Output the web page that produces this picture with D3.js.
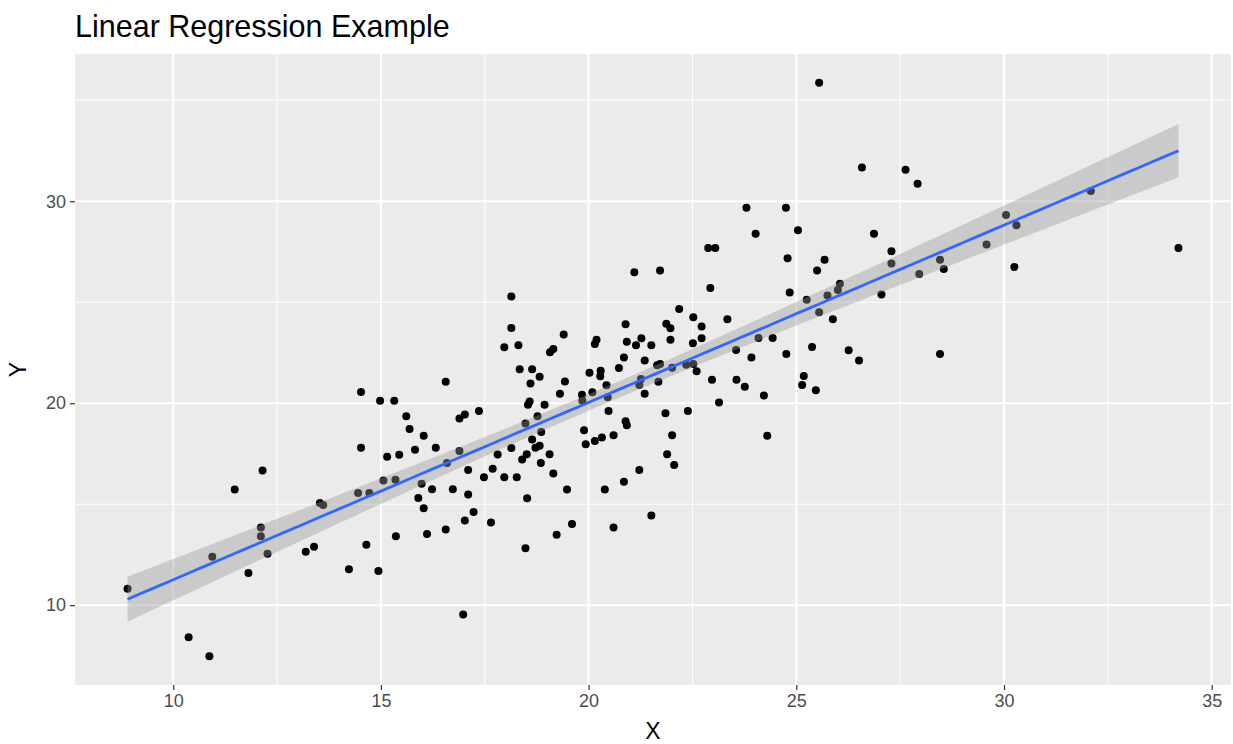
<!DOCTYPE html>
<html>
<head>
<meta charset="utf-8">
<script src="https://cdn.jsdelivr.net/npm/d3@7"></script>
<style>
  html, body { margin: 0; padding: 0; background: #ffffff; }
  svg { display: block; }
</style>
</head>
<body>
<svg id="chart" width="1233" height="744"></svg>
<script>
// ---- data ----
const xValues = [
  8.90, 10.37, 10.87, 10.94, 11.48, 12.15, 12.11, 12.11, 12.27, 11.81,
  13.19, 13.39, 13.53, 13.61, 14.23, 14.52, 14.45, 14.72, 14.65, 14.94,
  14.52, 14.98, 15.32, 16.56, 15.61, 15.69, 16.03, 15.15, 15.44, 15.82,
  16.32, 16.89, 17.02, 17.36, 16.89, 16.59, 15.06, 15.35, 15.98, 16.23,
  15.90, 16.03, 16.73, 17.10, 17.10, 17.23, 17.02, 16.56, 16.11, 15.36,
  16.98, 17.48, 17.65, 17.97, 18.27, 17.69, 17.81, 18.14, 18.40, 18.51,
  18.52, 18.48, 18.14, 18.14, 17.97, 18.31, 19.40, 19.07, 19.15, 18.34,
  18.64, 18.82, 18.60, 19.43, 19.31, 18.58, 18.54, 18.94, 18.77, 18.48,
  18.86, 18.64, 18.72, 18.82, 19.06, 18.85, 19.15, 19.48, 19.23, 19.60,
  20.60, 20.39, 20.85, 19.89, 19.93, 20.15, 20.32, 20.60, 20.48, 20.89,
  20.92, 19.84, 20.09, 20.43, 20.46, 20.02, 20.29, 20.28, 20.15, 20.19,
  20.73, 20.85, 20.92, 20.89, 19.85, 21.10, 21.72, 22.88, 23.05, 22.93,
  22.18, 22.52, 23.34, 22.72, 21.87, 21.97, 21.14, 21.27, 21.51, 21.97,
  22.51, 22.72, 21.35, 21.65, 21.72, 22.01, 22.35, 22.52, 22.60, 21.26,
  21.22, 21.68, 21.35, 21.85, 22.39, 23.14, 22.97, 23.56, 23.76, 23.55,
  22.01, 21.89, 22.06, 21.22, 21.51, 25.55, 26.58, 23.80, 24.75, 24.02,
  25.04, 26.87, 24.79, 25.68, 25.50, 27.29, 27.29, 24.84, 26.05, 26.00,
  25.75, 25.25, 25.55, 27.05, 25.88, 24.09, 24.43, 23.92, 24.76, 25.38,
  26.26, 26.51, 24.22, 25.18, 25.14, 25.47, 24.30, 27.63, 27.92, 27.96,
  28.46, 28.55, 28.46, 29.58, 30.05, 30.30, 30.25, 32.09, 34.20
];
const yValues = [
  10.82, 8.42, 7.47, 12.40, 15.73, 16.67, 13.85, 13.41, 12.55, 11.60,
  12.65, 12.89, 15.06, 14.96, 11.78, 17.80, 15.56, 15.56, 12.99, 11.70,
  20.55, 20.12, 20.12, 21.06, 19.36, 18.73, 18.39, 17.35, 17.45, 17.70,
  17.80, 19.24, 19.44, 19.61, 17.63, 17.04, 16.18, 16.21, 16.01, 15.74,
  15.31, 14.80, 15.74, 16.69, 15.48, 14.61, 14.19, 13.75, 13.52, 13.41,
  9.54, 16.34, 14.10, 16.34, 16.34, 16.76, 17.46, 17.78, 17.21, 17.47,
  15.30, 12.82, 25.29, 23.73, 22.77, 22.87, 23.40, 22.52, 22.69, 21.68,
  21.68, 21.31, 20.98, 21.08, 20.47, 20.08, 19.92, 19.92, 19.36, 19.00,
  18.58, 18.21, 17.80, 17.90, 17.47, 17.04, 16.52, 15.73, 13.49, 14.02,
  13.85, 15.73, 16.11, 18.66, 17.97, 18.13, 18.30, 18.41, 19.61, 19.11,
  18.91, 20.42, 20.54, 20.89, 20.29, 21.51, 21.61, 21.34, 22.93, 23.14,
  21.75, 22.27, 23.05, 23.91, 20.12, 26.48, 26.57, 27.69, 27.69, 25.70,
  24.66, 24.26, 24.16, 23.80, 23.93, 23.71, 22.87, 23.22, 22.87, 23.14,
  22.97, 23.22, 22.11, 21.88, 21.94, 21.76, 21.91, 21.94, 21.58, 21.20,
  20.90, 21.06, 20.47, 19.51, 19.61, 20.04, 21.16, 21.16, 20.82, 22.63,
  18.41, 17.47, 16.94, 16.69, 14.44, 35.87, 31.67, 29.68, 29.68, 28.39,
  28.56, 28.39, 27.18, 27.10, 26.57, 27.53, 26.92, 25.48, 25.92, 25.60,
  25.33, 25.12, 24.50, 25.38, 24.16, 23.23, 23.23, 22.27, 22.44, 22.79,
  22.62, 22.11, 20.38, 21.35, 20.90, 20.64, 18.39, 31.56, 30.87, 26.40,
  27.10, 26.65, 22.44, 27.86, 29.32, 28.81, 26.75, 30.51, 27.69
];
const xTicks = [10, 15, 20, 25, 30, 35];
const xMinor = [12.5, 17.5, 22.5, 27.5, 32.5];
const yTicks = [10, 20, 30];
const yMinor = [15, 25, 35];
const titleText = "Linear Regression Example";
const xLabel = "X";
const yLabel = "Y";

// ---- layout ----
const W = 1233, H = 744;
const panel = { left: 75, right: 1231, top: 54, bottom: 685 };

const points = xValues.map((x, i) => ({ x: x, y: yValues[i] }));

// ggplot-style 5% expansion of the data range
function expand(ext) { const r = ext[1] - ext[0]; return [ext[0] - 0.05 * r, ext[1] + 0.05 * r]; }
const xs = d3.scaleLinear().domain(expand(d3.extent(xValues))).range([panel.left, panel.right]);
const ys = d3.scaleLinear().domain(expand(d3.extent(yValues))).range([panel.bottom, panel.top]);

// ---- linear model with 95% confidence band ----
const n = points.length;
const xbar = d3.mean(xValues), ybar = d3.mean(yValues);
let sxx = 0, sxy = 0;
points.forEach(p => { sxx += (p.x - xbar) ** 2; sxy += (p.x - xbar) * (p.y - ybar); });
const slope = sxy / sxx;
const intercept = ybar - slope * xbar;
let sse = 0;
points.forEach(p => { sse += (p.y - (intercept + slope * p.x)) ** 2; });
const s = Math.sqrt(sse / (n - 2));
const tq = 1.972; // t quantile 0.975, df ~ 197
const [xmin, xmax] = d3.extent(xValues);
const fit = d3.range(80).map(i => {
  const x = xmin + (xmax - xmin) * i / 79;
  const yhat = intercept + slope * x;
  const se = s * Math.sqrt(1 / n + (x - xbar) ** 2 / sxx);
  return { x: x, y: yhat, lo: yhat - tq * se, hi: yhat + tq * se };
});

// ---- draw ----
const svg = d3.select("#chart");

svg.append("rect")
  .attr("x", panel.left).attr("y", panel.top)
  .attr("width", panel.right - panel.left).attr("height", panel.bottom - panel.top)
  .attr("fill", "#EBEBEB");

const grid = svg.append("g");
grid.selectAll(".xminor").data(xMinor).join("line")
  .attr("x1", d => xs(d)).attr("x2", d => xs(d))
  .attr("y1", panel.top).attr("y2", panel.bottom)
  .attr("stroke", "#ffffff").attr("stroke-width", 1);
grid.selectAll(".yminor").data(yMinor).join("line")
  .attr("y1", d => ys(d)).attr("y2", d => ys(d))
  .attr("x1", panel.left).attr("x2", panel.right)
  .attr("stroke", "#ffffff").attr("stroke-width", 1);
grid.selectAll(".xmajor").data(xTicks).join("line")
  .attr("x1", d => xs(d)).attr("x2", d => xs(d))
  .attr("y1", panel.top).attr("y2", panel.bottom)
  .attr("stroke", "#ffffff").attr("stroke-width", 2);
grid.selectAll(".ymajor").data(yTicks).join("line")
  .attr("y1", d => ys(d)).attr("y2", d => ys(d))
  .attr("x1", panel.left).attr("x2", panel.right)
  .attr("stroke", "#ffffff").attr("stroke-width", 2);

// points
svg.append("g").selectAll("circle").data(points).join("circle")
  .attr("cx", d => xs(d.x)).attr("cy", d => ys(d.y))
  .attr("r", 4).attr("fill", "#000000");

// confidence band
svg.append("path").datum(fit)
  .attr("d", d3.area().x(d => xs(d.x)).y0(d => ys(d.lo)).y1(d => ys(d.hi)))
  .attr("fill", "#999999").attr("fill-opacity", 0.4);

// fitted line
svg.append("path").datum(fit)
  .attr("d", d3.line().x(d => xs(d.x)).y(d => ys(d.y)))
  .attr("fill", "none").attr("stroke", "#3366FF").attr("stroke-width", 2.8);

// axes
const fontFam = "'Liberation Sans', Arial, sans-serif";
const xAxis = svg.append("g").attr("transform", `translate(0,${panel.bottom})`)
  .call(d3.axisBottom(xs).tickValues(xTicks).tickSize(5).tickPadding(4));
const yAxis = svg.append("g").attr("transform", `translate(${panel.left},0)`)
  .call(d3.axisLeft(ys).tickValues(yTicks).tickSize(5).tickPadding(4));
[xAxis, yAxis].forEach(a => {
  a.select(".domain").remove();
  a.selectAll(".tick line").attr("stroke", "#333333").attr("stroke-width", 1.2);
  a.selectAll(".tick text").attr("fill", "#4D4D4D")
    .style("font-family", fontFam).style("font-size", "18px");
});

// titles
svg.append("text").text(titleText)
  .attr("x", panel.left).attr("y", 37)
  .style("font-family", fontFam).style("font-size", "30.5px").attr("fill", "#000000");
svg.append("text").text(xLabel)
  .attr("x", (panel.left + panel.right) / 2).attr("y", 739)
  .attr("text-anchor", "middle")
  .style("font-family", fontFam).style("font-size", "23px").attr("fill", "#000000");
svg.append("text").text(yLabel)
  .attr("transform", `translate(26,${(panel.top + panel.bottom) / 2}) rotate(-90)`)
  .attr("text-anchor", "middle")
  .style("font-family", fontFam).style("font-size", "23px").attr("fill", "#000000");
</script>
</body>
</html>
